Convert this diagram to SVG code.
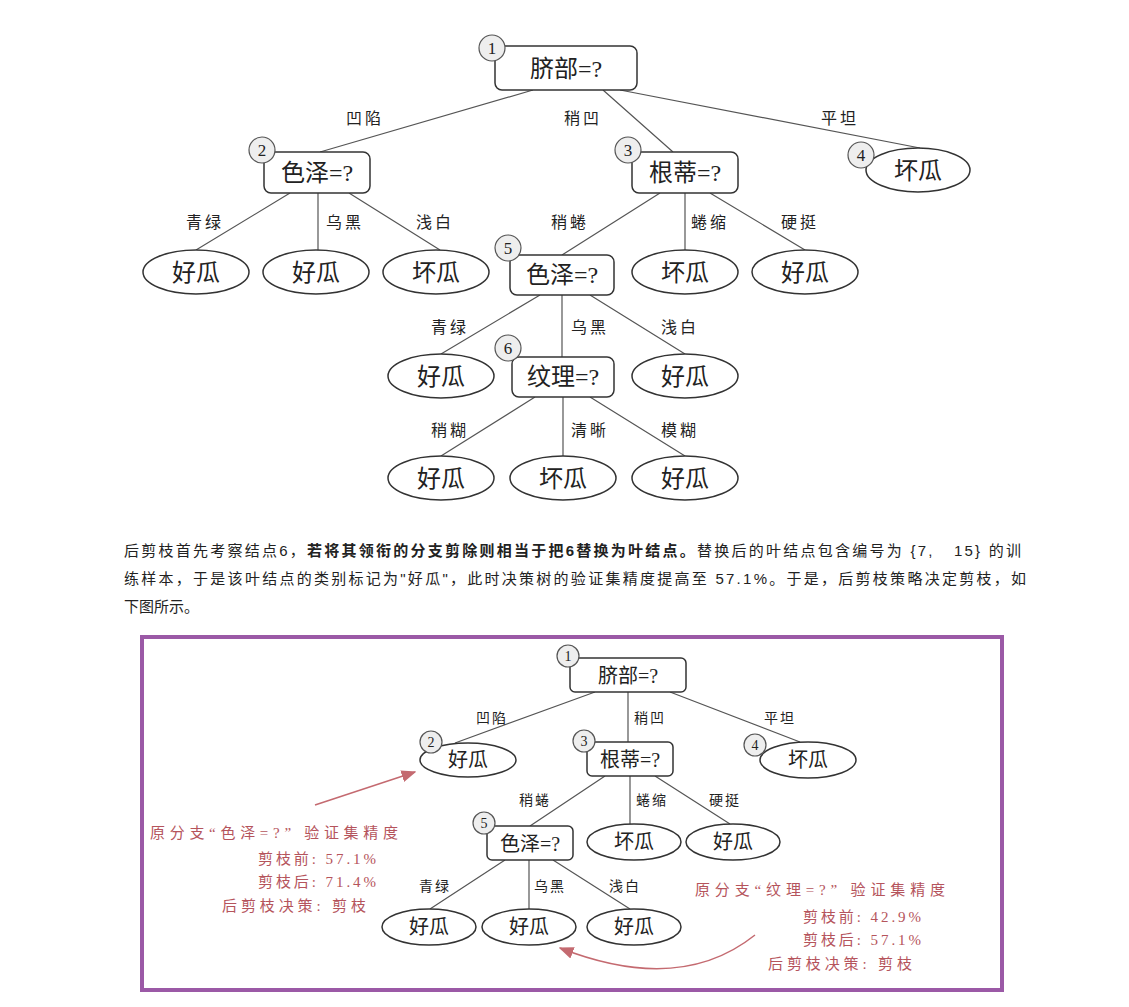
<svg xmlns="http://www.w3.org/2000/svg" width="1129" height="1007" viewBox="0 0 1129 1007">
<style>
.b{fill:#fff;stroke:#333;stroke-width:1.5}
.e{fill:#fff;stroke:#333;stroke-width:1.5}
.c{fill:#eee;stroke:#555;stroke-width:1.2}
.l{stroke:#555;stroke-width:1.2;fill:none}
text{font-family:"Liberation Serif","Noto Sans CJK SC",serif;fill:#222}
.t{font-size:24px;text-anchor:middle}
.s{font-size:16px;text-anchor:middle;letter-spacing:3px}
.n{font-size:17px;text-anchor:middle}
.t2{font-size:20px;text-anchor:middle}
.s2{font-size:14px;text-anchor:middle;letter-spacing:2px}
.n2{font-size:14px;text-anchor:middle}
.p{font-family:"Liberation Sans","Noto Sans CJK SC",sans-serif;font-size:15px}
.r{font-size:15px;fill:#b5545c}
.ra{stroke:#c46a70;stroke-width:1.5;fill:none}
</style>
<defs><marker id="ah" markerWidth="10" markerHeight="8" refX="9" refY="4" orient="auto"><path d="M0,0L10,4L0,8z" fill="#c46a70"/></marker></defs>
<rect width="1129" height="1007" fill="#fff"/>
<g id="edges1">
<path class="l" d="M533,90L320,152M603,90L673,152M620,90L920,148M290,193L196,250M318,193L318,250M349,193L440,250M660,193L562,255M685,193L685,250M710,193L805,250M540,295L441,354M562,295L562,357M590,295L685,354M535,397L441,456M563,397L563,456M590,397L685,456"/>
</g>
<g id="elabels1">
<text class="s" x="365" y="124">凹陷</text><text class="s" x="583" y="124">稍凹</text><text class="s" x="840" y="124">平坦</text>
<text class="s" x="205" y="228">青绿</text><text class="s" x="345" y="228">乌黑</text><text class="s" x="435" y="228">浅白</text>
<text class="s" x="570" y="228">稍蜷</text><text class="s" x="710" y="228">蜷缩</text><text class="s" x="800" y="228">硬挺</text>
<text class="s" x="450" y="333">青绿</text><text class="s" x="590" y="333">乌黑</text><text class="s" x="680" y="333">浅白</text>
<text class="s" x="450" y="436">稍糊</text><text class="s" x="590" y="436">清晰</text><text class="s" x="680" y="436">模糊</text>
</g>
<g id="n1"><rect class="b" x="495" y="46" width="142" height="44" rx="7"/><circle class="c" cx="492" cy="48" r="13"/><text class="n" x="492" y="54">1</text><text class="t" x="566" y="77">脐部=?</text></g>
<g id="n2"><rect class="b" x="264" y="152" width="106" height="41" rx="7"/><circle class="c" cx="262" cy="150" r="13"/><text class="n" x="262" y="156">2</text><text class="t" x="317" y="181">色泽=?</text></g>
<g id="n3"><rect class="b" x="632" y="152" width="106" height="41" rx="7"/><circle class="c" cx="628" cy="150" r="13"/><text class="n" x="628" y="156">3</text><text class="t" x="685" y="181">根蒂=?</text></g>
<g id="n4"><ellipse class="e" cx="918" cy="170" rx="52" ry="22"/><circle class="c" cx="861" cy="155" r="13"/><text class="n" x="861" y="161">4</text><text class="t" x="918" y="179">坏瓜</text></g>
<g id="n5"><rect class="b" x="510" y="255" width="104" height="40" rx="7"/><circle class="c" cx="508" cy="248" r="13"/><text class="n" x="508" y="254">5</text><text class="t" x="562" y="283">色泽=?</text></g>
<g id="n6"><rect class="b" x="512" y="357" width="102" height="40" rx="7"/><circle class="c" cx="508" cy="348" r="13"/><text class="n" x="508" y="354">6</text><text class="t" x="563" y="385">纹理=?</text></g>
<g id="leaves1">
<g id="l1"><ellipse class="e" cx="196" cy="272" rx="53" ry="22"/><text class="t" x="196" y="281">好瓜</text></g>
<g id="l2"><ellipse class="e" cx="316" cy="272" rx="53" ry="22"/><text class="t" x="316" y="281">好瓜</text></g>
<g id="l3"><ellipse class="e" cx="436" cy="272" rx="53" ry="22"/><text class="t" x="436" y="281">坏瓜</text></g>
<g id="l4"><ellipse class="e" cx="685" cy="272" rx="53" ry="22"/><text class="t" x="685" y="281">坏瓜</text></g>
<g id="l5"><ellipse class="e" cx="805" cy="272" rx="53" ry="22"/><text class="t" x="805" y="281">好瓜</text></g>
<g id="l6"><ellipse class="e" cx="441" cy="376" rx="53" ry="22"/><text class="t" x="441" y="385">好瓜</text></g>
<g id="l7"><ellipse class="e" cx="685" cy="376" rx="53" ry="22"/><text class="t" x="685" y="385">好瓜</text></g>
<g id="l8"><ellipse class="e" cx="441" cy="478" rx="53" ry="22"/><text class="t" x="441" y="487">好瓜</text></g>
<g id="l9"><ellipse class="e" cx="563" cy="478" rx="53" ry="22"/><text class="t" x="563" y="487">坏瓜</text></g>
<g id="l10"><ellipse class="e" cx="685" cy="478" rx="53" ry="22"/><text class="t" x="685" y="487">好瓜</text></g>
</g>
<g id="para">
<text class="p" x="124" y="556" textLength="897" lengthAdjust="spacing">后剪枝首先考察结点6，<tspan font-weight="bold">若将其领衔的分支剪除则相当于把6替换为叶结点。</tspan>替换后的叶结点包含编号为 {7,&#160;&#160;&#160;15} 的训</text>
<text class="p" x="124" y="584" textLength="902" lengthAdjust="spacing">练样本，于是该叶结点的类别标记为"好瓜"，此时决策树的验证集精度提高至 57.1%。于是，后剪枝策略决定剪枝，如</text>
<text class="p" x="124" y="612">下图所示。</text>
</g>
<rect x="142" y="637" width="860" height="353" fill="none" stroke="#9b59a6" stroke-width="4"/>
<g id="edges2">
<path class="l" d="M595,692L455,743M628,692L628,742M670,692L800,742M605,776L530,826M630,776L630,824M655,776L730,824M505,860L430,909M529,860L529,909M553,860L630,909"/>
</g>
<g id="elabels2">
<text class="s2" x="492" y="723">凹陷</text><text class="s2" x="650" y="723">稍凹</text><text class="s2" x="780" y="723">平坦</text>
<text class="s2" x="535" y="805">稍蜷</text><text class="s2" x="652" y="805">蜷缩</text><text class="s2" x="725" y="805">硬挺</text>
<text class="s2" x="435" y="891">青绿</text><text class="s2" x="550" y="891">乌黑</text><text class="s2" x="625" y="891">浅白</text>
</g>
<g id="m1"><rect class="b" x="570" y="658" width="116" height="34" rx="5"/><circle class="c" cx="568" cy="656" r="11"/><text class="n2" x="568" y="661">1</text><text class="t2" x="628" y="683">脐部=?</text></g>
<g id="m2"><ellipse class="e" cx="468" cy="760" rx="48" ry="17"/><circle class="c" cx="431" cy="742" r="11"/><text class="n2" x="431" y="747">2</text><text class="t2" x="468" y="767">好瓜</text></g>
<g id="m3"><rect class="b" x="587" y="742" width="86" height="34" rx="5"/><circle class="c" cx="584" cy="741" r="11"/><text class="n2" x="584" y="746">3</text><text class="t2" x="630" y="767">根蒂=?</text></g>
<g id="m4"><ellipse class="e" cx="808" cy="760" rx="48" ry="18"/><circle class="c" cx="755" cy="745" r="11"/><text class="n2" x="755" y="750">4</text><text class="t2" x="808" y="767">坏瓜</text></g>
<g id="m5"><rect class="b" x="487" y="826" width="86" height="34" rx="5"/><circle class="c" cx="484" cy="823" r="11"/><text class="n2" x="484" y="828">5</text><text class="t2" x="530" y="851">色泽=?</text></g>
<g id="m6"><ellipse class="e" cx="634" cy="842" rx="47" ry="18"/><text class="t2" x="634" y="849">坏瓜</text></g>
<g id="m7"><ellipse class="e" cx="733" cy="842" rx="47" ry="18"/><text class="t2" x="733" y="849">好瓜</text></g>
<g id="m8"><ellipse class="e" cx="429" cy="927" rx="47" ry="18"/><text class="t2" x="429" y="934">好瓜</text></g>
<g id="m9"><ellipse class="e" cx="529" cy="927" rx="47" ry="18"/><text class="t2" x="529" y="934">好瓜</text></g>
<g id="m10"><ellipse class="e" cx="634" cy="927" rx="47" ry="18"/><text class="t2" x="634" y="934">好瓜</text></g>
<g id="annot">
<path class="ra" d="M315,805L415,772" marker-end="url(#ah)"/>
<path class="ra" d="M755,935Q680,995 560,948" marker-end="url(#ah)"/>
<text class="r" x="150" y="838" textLength="248" lengthAdjust="spacing">原分支“色泽=?”  验证集精度</text>
<text class="r" x="258" y="864" textLength="118" lengthAdjust="spacing">剪枝前: 57.1%</text>
<text class="r" x="258" y="887" textLength="118" lengthAdjust="spacing">剪枝后: 71.4%</text>
<text class="r" x="222" y="911" textLength="144" lengthAdjust="spacing">后剪枝决策: 剪枝</text>
<text class="r" x="695" y="895" textLength="250" lengthAdjust="spacing">原分支“纹理=?”  验证集精度</text>
<text class="r" x="803" y="922" textLength="118" lengthAdjust="spacing">剪枝前: 42.9%</text>
<text class="r" x="803" y="945" textLength="118" lengthAdjust="spacing">剪枝后: 57.1%</text>
<text class="r" x="768" y="969" textLength="144" lengthAdjust="spacing">后剪枝决策: 剪枝</text>
</g>
</svg>
